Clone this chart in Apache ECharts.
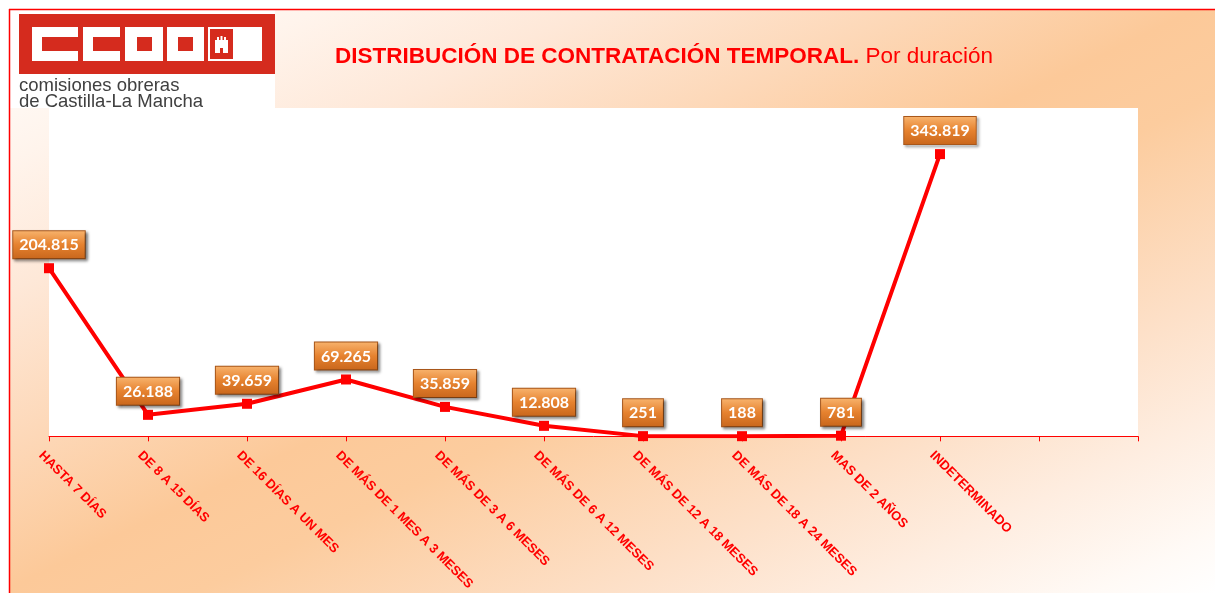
<!DOCTYPE html>
<html>
<head>
<meta charset="utf-8">
<script src="https://cdn.jsdelivr.net/npm/echarts@6/dist/echarts.min.js"></script>
<style>
  html, body { margin: 0; padding: 0; background: #fff; }
  #chart {
    width: 1215px; height: 593px;
    background: linear-gradient(to bottom right, #ffffff 0%, #fff4ec 14%, #fee8d8 25%, #fdd8b8 38%,
      #fcc999 50%, #fccc9e 58%, #fde0c8 75%, #feede0 85%, #fffaf6 95%, #ffffff 100%);
  }
</style>
</head>
<body>
<div id="chart"></div>
<script>
// categorías (las dos últimas vacías, como en el original)
var categorias = ['HASTA 7 DÍAS', 'DE 8 A 15 DÍAS', 'DE 16 DÍAS A UN MES', 'DE MÁS DE 1 MES A 3 MESES',
    'DE MÁS DE 3 A 6 MESES', 'DE MÁS DE 6 A 12 MESES', 'DE MÁS DE 12 A 18 MESES',
    'DE MÁS DE 18 A 24 MESES', 'MAS DE 2 AÑOS', 'INDETERMINADO', '', ''];
var contratos = [204815, 26188, 39659, 69265, 35859, 12808, 251, 188, 781, 343819, null, null];

function miles(v) {
    return String(v).replace(/\B(?=(\d{3})+(?!\d))/g, '.');
}

var rojo = '#ff0000';
var rojoLogo = '#d52b1e';
var fuente = '"Liberation Sans", Arial, sans-serif';

var logo = [
    // franja blanca detrás del logo
    { type: 'rect', shape: { x: 10, y: 10, width: 265, height: 98 }, style: { fill: '#fff' } },
    { type: 'rect', shape: { x: 19, y: 14, width: 256, height: 60 }, style: { fill: rojoLogo } },
    // C
    { type: 'rect', shape: { x: 32, y: 27, width: 46, height: 34 }, style: { fill: '#fff' } },
    { type: 'rect', shape: { x: 42, y: 37, width: 36, height: 14 }, style: { fill: rojoLogo } },
    // C
    { type: 'rect', shape: { x: 83, y: 27, width: 37, height: 34 }, style: { fill: '#fff' } },
    { type: 'rect', shape: { x: 93, y: 37, width: 27, height: 14 }, style: { fill: rojoLogo } },
    // O
    { type: 'rect', shape: { x: 125, y: 27, width: 38, height: 34 }, style: { fill: '#fff' } },
    { type: 'rect', shape: { x: 137, y: 37, width: 15, height: 14 }, style: { fill: rojoLogo } },
    // O
    { type: 'rect', shape: { x: 167, y: 27, width: 37, height: 34 }, style: { fill: '#fff' } },
    { type: 'rect', shape: { x: 178, y: 37, width: 15, height: 14 }, style: { fill: rojoLogo } },
    // escudo
    { type: 'rect', shape: { x: 208, y: 27, width: 54, height: 34 }, style: { fill: '#fff' } },
    { type: 'rect', shape: { x: 210, y: 29, width: 23, height: 30 }, style: { fill: rojoLogo } },
    {
        type: 'polygon',
        shape: { points: [[215, 53], [215, 40], [217, 40], [217, 37], [219, 37], [219, 40], [220.5, 40], [220.5, 36],
            [222.5, 36], [222.5, 40], [224, 40], [224, 37], [226, 37], [226, 40], [228, 40], [228, 53],
            [223, 53], [223, 48], [220, 48], [220, 53]] },
        style: { fill: '#fff' }
    },
    {
        type: 'text', left: 19, top: 76,
        style: { text: 'comisiones obreras', fill: '#404040', font: '18.5px ' + fuente }
    },
    {
        type: 'text', left: 19, top: 92,
        style: { text: 'de Castilla-La Mancha', fill: '#404040', font: '18.5px ' + fuente }
    },
    // marco
    { type: 'rect', shape: { x: 0, y: 0, width: 1215, height: 9 }, style: { fill: '#fff' } },
    { type: 'rect', shape: { x: 0, y: 0, width: 9, height: 593 }, style: { fill: '#fff' } },
    { type: 'line', shape: { x1: 9, y1: 9.5, x2: 1215, y2: 9.5 }, style: { stroke: rojo, lineWidth: 1.5 } },
    { type: 'line', shape: { x1: 9.5, y1: 9, x2: 9.5, y2: 593 }, style: { stroke: rojo, lineWidth: 1.5 } }
];

var option = {
    backgroundColor: 'transparent',
    title: {
        text: '{b|DISTRIBUCIÓN DE CONTRATACIÓN TEMPORAL.}{n| Por duración}',
        left: 330,
        top: 40,
        textStyle: {
            rich: {
                b: { color: rojo, fontSize: 22.5, fontWeight: 'bold', fontFamily: fuente },
                n: { color: rojo, fontSize: 22.5, fontWeight: 'normal', fontFamily: fuente }
            }
        }
    },
    graphic: logo,
    grid: {
        left: 49,
        right: 77,
        top: 108,
        bottom: 153,
        show: true,
        backgroundColor: '#fff',
        borderWidth: 0
    },
    xAxis: {
        type: 'category',
        data: categorias,
        boundaryGap: false,
        axisLine: { lineStyle: { color: rojo, width: 1 } },
        axisTick: { show: true, length: 5, lineStyle: { color: rojo } },
        axisLabel: {
            interval: 0,
            rotate: -45,
            margin: 9,
            verticalAlign: 'top',
            padding: [5, 0, 0, 0],
            color: rojo,
            fontWeight: 'bold',
            fontSize: 13,
            fontFamily: fuente
        }
    },
    yAxis: {
        type: 'value',
        min: 0,
        max: 400000,
        show: false,
        splitLine: { show: false }
    },
    series: [{
        type: 'line',
        data: contratos,
        symbol: 'rect',
        symbolSize: 10,
        lineStyle: { color: rojo, width: 4 },
        itemStyle: { color: rojo },
        label: {
            show: true,
            position: 'top',
            distance: 5,
            formatter: function (p) { return miles(p.value); },
            color: '#fff',
            fontWeight: 'bold',
            fontSize: 16,
            fontFamily: 'Lato, "Open Sans", sans-serif',
            padding: [6, 6, 5, 6],
            backgroundColor: {
                type: 'linear', x: 0, y: 0, x2: 0, y2: 1,
                colorStops: [
                    { offset: 0, color: '#f8b46e' },
                    { offset: 0.5, color: '#e6822f' },
                    { offset: 1, color: '#c8661c' }
                ]
            },
            borderColor: '#a9571a',
            borderWidth: 1,
            shadowColor: 'rgba(0,0,0,0.45)',
            shadowBlur: 3,
            shadowOffsetX: 2,
            shadowOffsetY: 2
        }
    }]
};

var myChart = echarts.init(document.getElementById('chart'));
myChart.setOption(option);
</script>
</body>
</html>
